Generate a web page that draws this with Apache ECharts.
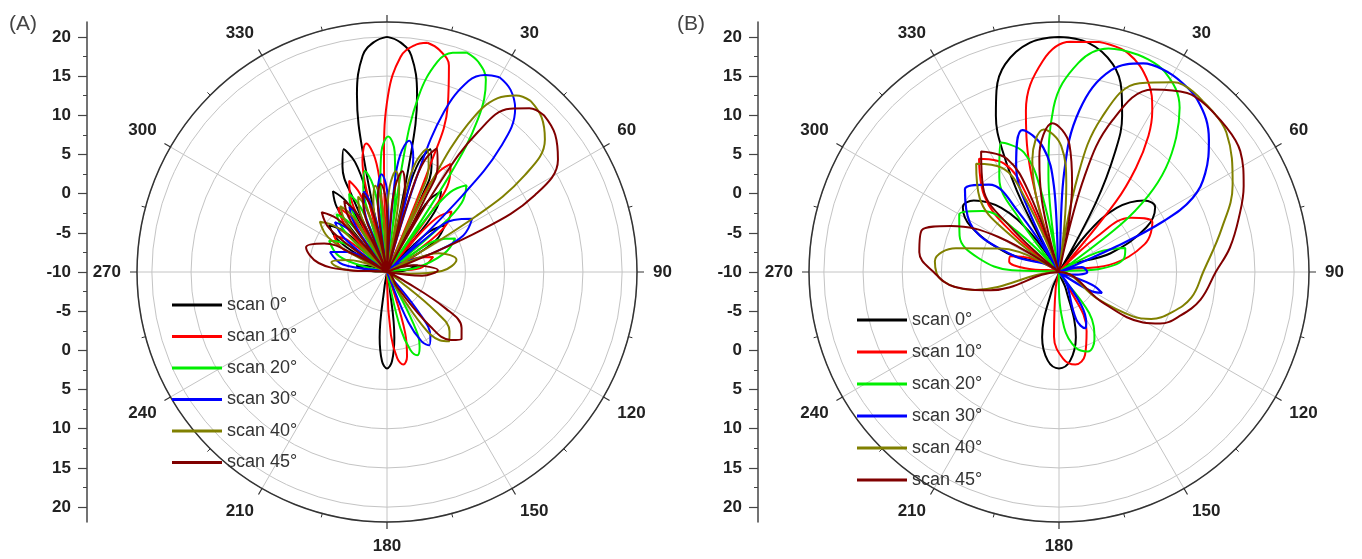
<!DOCTYPE html>
<html><head><meta charset="utf-8">
<script src="https://cdn.jsdelivr.net/npm/echarts/dist/echarts.min.js"></script>
<style>html,body{margin:0;padding:0;background:#fff}#c{width:1362px;height:559px}</style>
</head><body><div id="c"></div>
<script>
// ---------- names, colours, tick labels ----------
const scanNames = ['scan 0°','scan 10°','scan 20°','scan 30°','scan 40°','scan 45°'];
const scanColors = ['#000000','#ff0000','#00ee00','#0000ff','#808000','#800000'];
const radialTickLabels = [20,15,10,5,0,-5,-10,-5,0,5,10,15,20];
const angleTickLabels = [30,60,90,120,150,180,210,240,270,300,330];

// ---------- panel A : [angle(deg, clockwise from top), level(dB)] ----------
const A_scan0 = [[0,20],[3.2,19.4],[6.4,17.8],[9.6,13.0],[11.5,5.0],[12.8,-10],
[12.8,-10],[14.5,0.6],[16.2,4.6],[19.5,6.6],[22.9,4.6],[24.7,0.6],[26.4,-10],
[26.4,-10],[28.3,-3.6],[30.1,0.4],[33.8,2.4],[37.8,0.4],[39.8,-3.6],[41.8,-10],
[41.8,-10],[44.1,-6.5],[46.5,-2.5],[51.1,-0.5],[56.9,-2.5],[59.8,-6.5],[62.7,-10],
[62.7,-10],[70,-8],[78,-6],[86,-8],[95,-10],
[167.2,-10],[170.4,-8.2],[173.6,-1.6],[176.8,1.4],[180,2.3],[183.2,1.4],[186.4,-1.6],[189.6,-8.2],[192.8,-10],
[265,-10],[274,-8],[282,-6],[290,-8],[297.3,-10],
[297.3,-10],[300.2,-6.5],[303.1,-2.5],[308.9,-0.5],[313.5,-2.5],[315.9,-6.5],[318.2,-10],
[318.2,-10],[320.2,-3.6],[322.2,0.4],[326.2,2.4],[329.9,0.4],[331.7,-3.6],[333.6,-10],
[333.6,-10],[335.3,0.6],[337.1,4.6],[340.5,6.6],[343.8,4.6],[345.5,0.6],[347.2,-10],
[347.2,-10],[348.5,5.0],[350.4,13.0],[353.6,17.8],[356.8,19.4],[360,20]];

const A_scan10 = [[10,19.7],[13.3,19.1],[16.7,17.5],[20.0,12.7],[22.0,4.7],[23.3,-10],
[23.3,-10],[25.1,0],[26.9,4.0],[30.5,6.0],[34.4,4.0],[36.3,0],[38.2,-10],
[38.2,-10],[40.4,-4.7],[42.5,-0.7],[46.8,1.3],[52.0,-0.7],[54.6,-4.7],[57.2,-10],
[57.2,-10],[64.6,-5.8],[72,-3.8],[83.5,-5.8],[95,-10],
[156.7,-10],[160.0,-8.5],[163.4,-1.9],[166.7,1.1],[170,2.0],[173.2,1.1],[176.4,-1.9],[179.6,-8.5],[182.8,-10],
[290.4,-10],[297.4,-3.8],[304.3,-1.8],[309.3,-3.8],[314.3,-10],
[314.3,-10],[316.4,-5.7],[318.6,-1.7],[322.8,0.3],[326.7,-1.7],[328.6,-5.7],[330.5,-10],
[330.5,-10],[332.3,-3.4],[334.0,0.6],[337.5,2.6],[340.9,0.6],[342.6,-3.4],[344.3,-10],
[344.3,-10],[345.9,0.6],[347.6,4.6],[350.8,6.6],[354.0,4.6],[355.6,0.6],[357.2,-10],
[357.2,-10],[358.5,4.7],[0.4,12.7],[3.6,17.5],[6.8,19.1],[10,19.7]];

const A_scan20 = [[20,19.8],[23.6,19.2],[27.2,17.6],[30.7,12.8],[32.9,4.8],[34.3,-10],
[34.3,-10],[36.4,-1.0],[38.4,3.0],[42.5,5.0],[47.2,3.0],[49.5,-1.0],[51.8,-10],
[51.8,-10],[54.8,-6.3],[57.9,-2.3],[63.9,-0.3],[72,-2.3],[82,-6.3],[92,-10],
[145.7,-10],[149.3,-9.2],[152.9,-2.6],[156.4,0.4],[160,1.3],[163.3,0.4],[166.6,-2.6],[169.8,-9.2],[173.1,-10],
[277.7,-10],[282.9,-7.6],[288.1,-3.6],[298.4,-1.6],[304.1,-3.6],[306.9,-7.6],[309.7,-10],
[309.7,-10],[312.0,-6.2],[314.3,-2.2],[318.9,-0.2],[322.9,-2.2],[324.8,-6.2],[326.8,-10],
[326.8,-10],[328.7,-4.9],[330.5,-0.9],[334.2,1.1],[337.6,-0.9],[339.3,-4.9],[341.0,-10],
[341.0,-10],[342.7,-2.8],[344.3,1.2],[347.6,3.2],[350.9,1.2],[352.5,-2.8],[354.1,-10],
[354.1,-10],[355.7,1.3],[357.3,5.3],[0.5,7.3],[3.7,5.3],[5.3,1.3],[6.9,-10],
[6.9,-10],[8.2,4.8],[10.2,12.8],[13.5,17.6],[16.7,19.2],[20,19.8]];

const A_scan30 = [[30,18.7],[34.1,18.1],[38.1,16.5],[42.2,11.7],[44.6,3.7],[46.2,-10],
[46.2,-10],[49.2,-3.2],[52.1,0.8],[58,2.8],[64.4,0.8],[67.5,-3.2],[70.7,-10],
[133.8,-10],[137.9,-9.7],[141.9,-3.1],[146.0,-0.1],[150,0.8],[153.5,-0.1],[157.0,-3.1],[160.4,-9.7],[163.9,-10],
[270,-10],[279.6,-4.3],[289.3,-2.3],[296.5,-4.3],[303.6,-10],
[303.6,-10],[306.2,-6.8],[308.7,-2.8],[313.8,-0.8],[318.1,-2.8],[320.2,-6.8],[322.3,-10],
[322.3,-10],[324.2,-6.4],[326.2,-2.4],[330,-0.4],[333.6,-2.4],[335.3,-6.4],[337.1,-10],
[337.1,-10],[338.8,-5.3],[340.5,-1.3],[343.9,0.7],[347.2,-1.3],[348.8,-5.3],[350.4,-10],
[350.4,-10],[352.0,-3.5],[353.6,0.5],[356.8,2.5],[0,0.5],[1.6,-3.5],[3.2,-10],
[3.2,-10],[4.8,1.0],[6.4,5.0],[9.6,7.0],[12.9,5.0],[14.5,1.0],[16.1,-10],
[16.1,-10],[17.5,3.7],[19.6,11.7],[23.1,16.5],[26.5,18.1],[30,18.7]];

const A_scan40 = [[40,18.5],[45.0,17.9],[50.0,16.3],[54.9,11.5],[57.9,3.5],[59.9,-10],
[59.9,-10],[65,-7.0],[70,-3.0],[80,-1.0],[89,-3.0],[94,-7.0],[98,-10],
[120.1,-10],[124.6,-8.6],[129.1,-2.0],[133.5,1.0],[138,1.9],[142.3,1.0],[146.6,-2.0],[150.8,-8.6],[155.1,-10],
[268,-10],[273,-4.8],[280,-2.8],[287,-4.8],[294.1,-10],
[294.1,-10],[297.3,-5.3],[300.5,-1.3],[306.8,0.7],[311.6,-1.3],[314.0,-5.3],[316.4,-10],
[316.4,-10],[318.5,-5.7],[320.5,-1.7],[324.6,0.3],[328.4,-1.7],[330.2,-5.7],[332.1,-10],
[332.1,-10],[333.9,-5.7],[335.6,-1.7],[339.1,0.3],[342.4,-1.7],[344.1,-5.7],[345.7,-10],
[345.7,-10],[347.3,-4.9],[349.0,-0.9],[352.2,1.1],[355.4,-0.9],[357.0,-4.9],[358.6,-10],
[358.6,-10],[0.2,-3.1],[1.8,0.9],[5.0,2.9],[8.2,0.9],[9.8,-3.1],[11.4,-10],
[11.4,-10],[13.1,0.5],[14.7,4.5],[18.0,6.5],[21.5,4.5],[23.2,0.5],[24.9,-10],
[24.9,-10],[26.4,3.5],[28.7,11.5],[32.5,16.3],[36.2,17.9],[40,18.5]];

const A_scan45 = [[45,18.3],[50.8,17.7],[56.7,16.1],[62.5,11.3],[66.0,3.3],[68.3,-10],
[68.3,-10],[76,-6.5],[88,-3.5],[96,-5.5],[100,-10],
[111.7,-10],[116.8,-7.7],[121.9,-1.1],[126.9,1.9],[132,2.8],[136.8,1.9],[141.5,-1.1],[146.3,-7.7],[151,-10],
[268,-10],[272.8,-5.2],[277.5,-1.2],[287,0.8],[294.5,-1.2],[298.2,-5.2],[301.9,-10],
[301.9,-10],[304.6,-4.7],[307.2,-0.7],[312.5,1.3],[316.9,-0.7],[319.0,-4.7],[321.2,-10],
[321.2,-10],[323.2,-5.4],[325.1,-1.4],[329,0.6],[332.6,-1.4],[334.4,-5.4],[336.2,-10],
[336.2,-10],[337.9,-5.5],[339.6,-1.5],[343,0.5],[346.3,-1.5],[347.9,-5.5],[349.5,-10],
[349.5,-10],[351.1,-4.7],[352.7,-0.7],[355.9,1.3],[359.1,-0.7],[0.7,-4.7],[2.3,-10],
[2.3,-10],[3.9,-3.0],[5.5,1.0],[8.7,3.0],[12.0,1.0],[13.6,-3.0],[15.2,-10],
[15.2,-10],[16.9,1.0],[18.6,5.0],[22,7.0],[25.5,5.0],[27.3,1.0],[29.0,-10],
[29.0,-10],[30.6,3.3],[33.0,11.3],[37.0,16.1],[41.0,17.7],[45,18.3]];

// ---------- panel B ----------
const B_scan0 = [[0,20],[7.2,19.5],[14.5,17.4],[19,14.5],[22,11.5],[25,7],[28,0],[30.5,-10],
[30.5,-10],[36,-4],[42,1],[50,4.2],[56,4.8],[63,2.5],[70,-3],[80,-10],
[153.3,-10],[158,-7.6],[165.5,-1.4],[172.8,1.4],[180,2.3],[187.2,1.4],[194.5,-1.4],[202,-7.6],[206.7,-10],
[280,-10],[290,-3],[297,2.5],[304,4.8],[310,4.2],[318,1],[324,-4],[329.5,-10],
[329.5,-10],[332,0],[335,7],[338,11.5],[341,14.5],[345.5,17.4],[352.8,19.5],[360,20]];

const B_scan10 = [[10,19.8],[17.4,19.3],[25.1,16.8],[30,13.8],[33.3,10.8],[36.5,6.5],[39,1.5],[42.4,-10],
[42.4,-10],[47.2,-3.3],[53,1.5],[62,3.5],[72,1.5],[82,-3.5],[90,-10],
[141.4,-10],[146.7,-7.9],[154.9,-1.7],[162.6,1.1],[170,2.0],[177.2,1.1],[184.4,-1.7],[191.6,-7.9],[196,-10],
[272,-10],[276,-6],[282,-3.5],[288,-3.5],[296,-6],[304.3,-10],
[304.3,-10],[310,-2.2],[315.5,3.6],[324.8,7.7],[333.2,5.5],[337.3,0.5],[341,-10],
[341,-10],[344,2.5],[348.4,11.0],[355.6,17.0],[2.8,19.4],[10,19.8]];

const B_scan20 = [[20,19.5],[27.8,18.9],[36.3,16.0],[41,12.8],[45.8,9.0],[49.5,5],[52.4,0],[57.4,-10],
[57.4,-10],[63,-4.5],[70,-1],[78,-1.5],[86,-5],[92,-10],
[134.2,-10],[143.7,-3.5],[152.2,-0.3],[160,0.8],[167.5,-0.1],[174.7,-2.9],[181.9,-9.2],[186.2,-10],
[266,-10],[272,-4],[280,0.5],[290,3.5],[300,4.7],[308.5,2.5],[314.1,-2.5],[318.9,-10],
[318.9,-10],[323.3,-1.6],[327.8,4.3],[335.9,8.1],[343.6,5.9],[347.4,0.9],[350.9,-10],
[350.9,-10],[353.8,2.5],[358.1,11.0],[5.3,16.8],[12.5,19.2],[20,19.5]];

const B_scan30 = [[30,19],[38.7,18.2],[48.6,15.5],[56,12.5],[61,9.5],[64,5],[66,-2],[68,-10],
[68,-10],[78,-7],[90,-6.4],[100,-8],[104,-10],
[105,-10],[111,-5.5],[116,-3.9],[121,-5.5],[127,-10],
[140,-10],[146,-5],[152,-2.6],[155,-2.1],[160,-3.5],[166,-10],
[270,-10],[290,-3.5],[299,3.0],[311.4,6.0],[321.3,4.3],[325.9,-0.7],[330,-10],
[330,-10],[333.9,-1.2],[338,4.6],[345.5,8.7],[352.8,6.0],[356.6,1.0],[360,-10],
[0,-10],[2.9,2.5],[7.2,10.8],[14.5,16.6],[22.0,18.7],[30,19]];

const B_scan40 = [[40,18.5],[50.2,17.8],[63.3,14.8],[75,11.5],[90,8.4],[101,7.2],[110,5.2],[117,3.2],[121,1.0],[125,-4],[130,-10],
[252,-10],[258,1],[266,5.0],[275,5.9],[283,3.5],[292,-2],[301,-10],
[301,-10],[307.2,-2.0],[312.9,3.8],[322.6,7.4],[331.2,5.2],[335.4,0.2],[339.1,-10],
[339.1,-10],[342.7,-0.9],[346.6,4.7],[353.9,8.3],[1.0,6.1],[4.8,1.1],[8.2,-10],
[8.2,-10],[11.1,2.5],[15.5,10.5],[23.1,16.2],[31.2,18.3],[40,18.5]];

const B_scan45 = [[45,18.3],[56.3,17.8],[65,16],[73.1,14],[82,12],[90,10],[101,8.4],[110,6.4],[117,4.5],[121,2.5],[125,-3],[130,-10],
[250,-10],[255,-1],[262,3.5],[270,6],[278,8],[287,8.3],[293,5],[300,-1],[307.5,-10],
[307.5,-10],[312.9,-1.5],[318.1,4.5],[327.1,8.3],[335.3,5.9],[339.3,0.9],[343,-10],
[343,-10],[346.5,-0.7],[350.3,4.9],[357.5,9.0],[4.7,6.3],[8.5,1.3],[12,-10],
[12,-10],[14.9,2.5],[19.4,10.5],[27.2,16.2],[35.6,18.1],[45,18.3]];

// ---------- build chart ----------
const panelA = [A_scan0, A_scan10, A_scan20, A_scan30, A_scan40, A_scan45];
const panelB = [B_scan0, B_scan10, B_scan20, B_scan30, B_scan40, B_scan45];
const FONT = 'Liberation Sans, Arial, sans-serif';
const RMIN = -10, RMAX = 21.9;

// positions on the vertical scale (distance from centre in dB units), paired with radialTickLabels
const yMajor = radialTickLabels.map((lab, i) => (i < 6 ? 1 : i === 6 ? 0 : -1) * (lab + 10));
const yMinor = yMajor.slice(0, -1).map((v, i) => (v + yMajor[i + 1]) / 2);

function polarSeries(list, idx) {
  return list.map((d, i) => ({
    type: 'line', name: scanNames[i], coordinateSystem: 'polar', polarIndex: idx,
    data: d.map(p => [p[1], p[0]]),
    smooth: 0.4, showSymbol: false, symbol: 'none', silent: true, clip: false,
    lineStyle: { color: scanColors[i], width: (idx === 1 && i === 3) ? 2.2 : 2 },
    itemStyle: { color: scanColors[i] }, z: 3 + i
  }));
}

function angleAxis(i) {
  return {
    polarIndex: i, type: 'value', min: 0, max: 360, interval: 30, startAngle: 90, clockwise: true,
    axisLine: { show: true, lineStyle: { color: '#333', width: 1.5 } },
    axisTick: { show: true, length: 7, lineStyle: { color: '#333', width: 1.2 } },
    minorTick: { show: true, splitNumber: 2, length: 4, lineStyle: { color: '#333', width: 1 } },
    axisLabel: { margin: 16, fontSize: 17, fontWeight: 'bold', color: '#222', fontFamily: FONT,
      formatter: v => (angleTickLabels.indexOf(v) >= 0 ? String(v) : '') },
    splitLine: { show: true, lineStyle: { color: '#c4c4c4', width: 1 } }
  };
}
function radiusAxis(i) {
  return {
    polarIndex: i, type: 'value', min: RMIN, max: RMAX, interval: 5,
    axisLine: { show: false }, axisTick: { show: false }, axisLabel: { show: false },
    splitLine: { show: true, lineStyle: { color: '#c4c4c4', width: 1 } }
  };
}
function yAxes(g) {
  const span = RMAX - RMIN;
  return [{
    gridIndex: g, type: 'value', min: -span, max: span, position: 'left',
    axisLine: { show: true, lineStyle: { color: '#444', width: 1.5 } },
    axisTick: { show: true, length: 9, customValues: yMajor, lineStyle: { color: '#444', width: 1.2 } },
    axisLabel: { customValues: yMajor, margin: 16, fontSize: 17, fontWeight: 'bold', color: '#222', fontFamily: FONT,
      formatter: v => String(Math.round(Math.abs(v) - 10)) },
    splitLine: { show: false }
  }, {
    gridIndex: g, type: 'value', min: -span, max: span, position: 'left',
    axisLine: { show: false },
    axisTick: { show: true, length: 4, customValues: yMinor, lineStyle: { color: '#444', width: 1 } },
    axisLabel: { show: false }, splitLine: { show: false }
  }];
}
function legend(left, top, gap) {
  return {
    data: scanNames, orient: 'vertical', left: left, top: top, padding: 0, icon: 'rect',
    itemWidth: 50, itemHeight: 3, itemGap: gap, selectedMode: false,
    textStyle: { fontSize: 18, color: '#333', fontFamily: FONT }
  };
}

const chart = echarts.init(document.getElementById('c'), null, { renderer: 'canvas' });
chart.setOption({
  animation: false,
  backgroundColor: '#fff',
  polar: [{ center: [387, 272], radius: 250 }, { center: [1059, 272], radius: 250 }],
  angleAxis: [angleAxis(0), angleAxis(1)],
  radiusAxis: [radiusAxis(0), radiusAxis(1)],
  grid: [{ left: 87, top: 22, width: 1, height: 500 }, { left: 758, top: 22, width: 1, height: 500 }],
  xAxis: [{ gridIndex: 0, type: 'value', show: false }, { gridIndex: 1, type: 'value', show: false }],
  yAxis: yAxes(0).concat(yAxes(1)),
  legend: [legend(172, 296, 13.5), legend(857, 311, 14)],
  graphic: [
    { type: 'text', left: 9, top: 14, style: { text: '(A)', fill: '#444', font: '21px ' + FONT } },
    { type: 'text', left: 677, top: 14, style: { text: '(B)', fill: '#444', font: '21px ' + FONT } }
  ],
  series: polarSeries(panelA, 0).concat(polarSeries(panelB, 1))
});
</script></body></html>
